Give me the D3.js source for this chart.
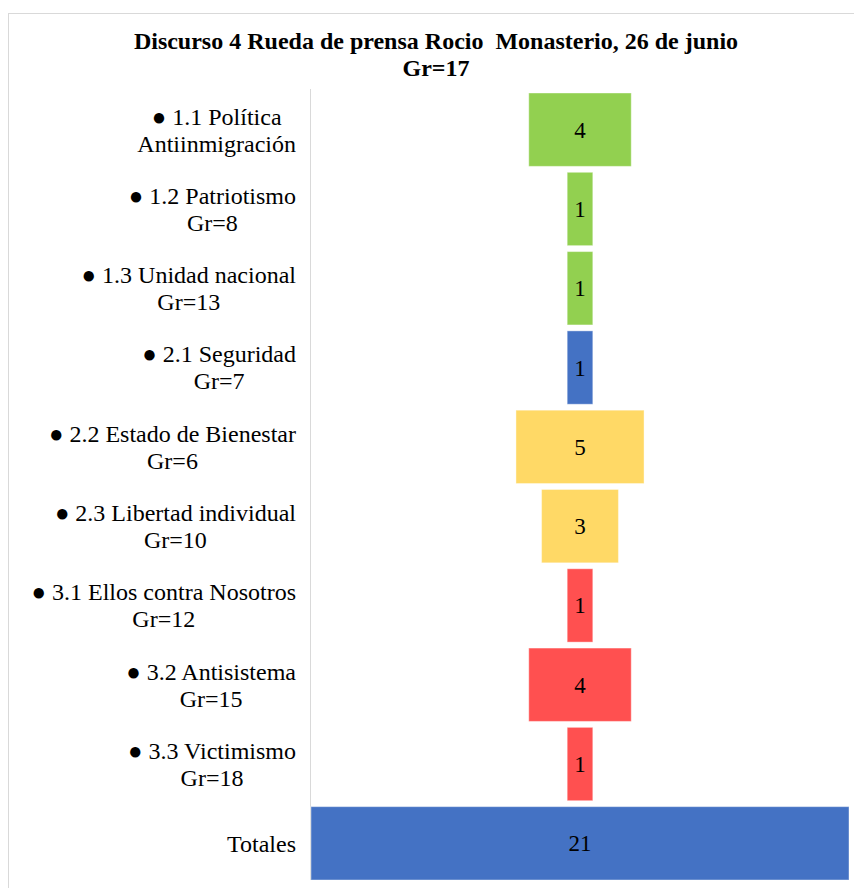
<!DOCTYPE html>
<html>
<head>
<meta charset="utf-8">
<script src="https://cdn.jsdelivr.net/npm/d3@7"></script>
<style>
  body { margin: 0; background: #fff; }
</style>
</head>
<body>
<div id="main"></div>
<script>
var ctx = {
    width: 854,
    height: 888,
    top: 93,
    bottom: 880,
    left: 311,
    right: 849,
    font: "'Liberation Serif'",
};

// data
var categories = ["1.1", "1.2", "1.3", "2.1", "2.2", "2.3", "3.1", "3.2", "3.3", "Totales"];
var labelLine1 = ["● 1.1 Política", "● 1.2 Patriotismo", "● 1.3 Unidad nacional", "● 2.1 Seguridad",
                  "● 2.2 Estado de Bienestar", "● 2.3 Libertad individual", "● 3.1 Ellos contra Nosotros",
                  "● 3.2 Antisistema", "● 3.3 Victimismo", "Totales"];
var labelLine2 = ["Antiinmigración", "Gr=8", "Gr=13", "Gr=7", "Gr=6", "Gr=10", "Gr=12", "Gr=15", "Gr=18", ""];
var values = [4, 1, 1, 1, 5, 3, 1, 4, 1, 21];
var groups = ["g1", "g1", "g1", "g2", "g3", "g3", "g4", "g4", "g4", "total"];
var titleLines = ["Discurso 4 Rueda de prensa Rocio  Monasterio, 26 de junio", "Gr=17"];

var color = d3.scaleOrdinal()
    .domain(["g1", "g2", "g3", "g4", "total"])
    .range(["#92D050", "#4472C4", "#FFD966", "#FF5050", "#4472C4"]);

var svg = d3.select("#main").append("svg")
    .attr("width", ctx.width)
    .attr("height", ctx.height);

// chart frame
svg.append("rect")
    .attr("x", 8.5).attr("y", 13.5)
    .attr("width", ctx.width + 20).attr("height", ctx.height + 20)
    .attr("fill", "none")
    .attr("stroke", "#d9d9d9");

// title
svg.append("text")
    .attr("x", 436)
    .attr("y", 49)
    .attr("text-anchor", "middle")
    .style("font-family", ctx.font)
    .style("font-weight", "bold")
    .style("font-size", "24px")
    .style("white-space", "pre")
    .selectAll("tspan")
    .data(titleLines)
    .enter().append("tspan")
      .attr("x", 436)
      .attr("dy", function(d, i) { return i === 0 ? 0 : 27; })
      .text(function(d) { return d; });

var maxVal = d3.max(values);
var center = (ctx.left + ctx.right) / 2;
var w = d3.scaleLinear()
    .domain([0, maxVal])
    .range([0, ctx.right - ctx.left]);

var y = d3.scaleBand()
    .domain(categories)
    .range([ctx.top, ctx.bottom])
    .paddingInner(0.075)
    .paddingOuter(0);

// vertical axis line
svg.append("line")
    .attr("x1", ctx.left - 0.5).attr("x2", ctx.left - 0.5)
    .attr("y1", ctx.top - 4).attr("y2", ctx.bottom)
    .attr("stroke", "#d9d9d9");

var rows = categories.map(function(c, i) {
    return {cat: c, value: values[i], group: groups[i], l1: labelLine1[i], l2: labelLine2[i]};
});

// bars centered like a funnel
svg.append("g").selectAll("rect")
    .data(rows)
    .enter().append("rect")
      .attr("x", function(d) { return center - w(d.value) / 2; })
      .attr("y", function(d) { return y(d.cat); })
      .attr("width", function(d) { return w(d.value); })
      .attr("height", y.bandwidth())
      .attr("fill", function(d) { return color(d.group); })
      .attr("stroke", "#ffffff")
      .attr("stroke-opacity", 0.4)
      .attr("stroke-width", 1);

// value labels
svg.append("g").selectAll("text")
    .data(rows)
    .enter().append("text")
      .attr("x", center)
      .attr("y", function(d) { return y(d.cat) + y.bandwidth() / 2; })
      .attr("dy", "0.35em")
      .attr("text-anchor", "middle")
      .style("font-family", ctx.font)
      .style("font-size", "23px")
      .text(function(d) { return d.value; });

// category labels: lines centered together, block right-aligned
var labelRight = 296;
var labels = svg.append("g").selectAll("g")
    .data(rows)
    .enter().append("g");

labels.each(function(d) {
    var g = d3.select(this);
    var lines = d.l2 ? [d.l1, d.l2] : [d.l1];
    var cy = y(d.cat) + y.bandwidth() / 2;
    var lineH = 27;
    var texts = g.selectAll("text")
        .data(lines)
        .enter().append("text")
          .attr("y", function(t, i) { return cy + (i - (lines.length - 1) / 2) * lineH; })
          .attr("dy", "0.35em")
          .attr("text-anchor", "middle")
          .style("font-family", ctx.font)
          .style("font-size", "24px")
          .text(function(t) { return t; });
    var maxW = 0;
    texts.each(function() { maxW = Math.max(maxW, this.getComputedTextLength()); });
    texts.attr("x", labelRight - maxW / 2);
});
</script>
</body>
</html>
